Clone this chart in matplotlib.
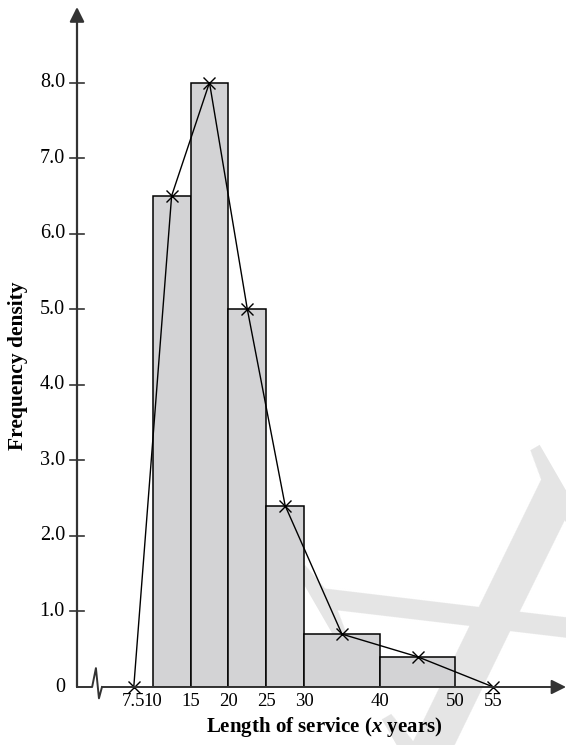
import matplotlib
matplotlib.use("Agg")
import matplotlib.pyplot as plt

# histogram data (class boundaries and frequency density)
lower = [10, 15, 20, 25, 30, 40]
upper = [15, 20, 25, 30, 40, 50]
density = [6.5, 8.0, 5.0, 2.4, 0.7, 0.4]

# frequency polygon points
poly_x = [7.5, 12.5, 17.5, 22.5, 27.5, 35, 45, 55]
poly_y = [0, 6.5, 8.0, 5.0, 2.4, 0.7, 0.4, 0]

xtick_vals = [7.5, 10, 15, 20, 25, 30, 40, 50, 55]
xtick_labels = ["7.5", "10", "15", "20", "25", "30", "40", "50", "55"]
ytick_vals = [0, 1, 2, 3, 4, 5, 6, 7, 8]
ytick_labels = ["0", "1.0", "2.0", "3.0", "4.0", "5.0", "6.0", "7.0", "8.0"]

plt.rcParams['font.family'] = ['Liberation Serif', 'DejaVu Serif']
plt.rcParams['mathtext.fontset'] = 'custom'
plt.rcParams['mathtext.bfit'] = 'Liberation Serif:italic:bold'
plt.rcParams['mathtext.rm'] = 'Liberation Serif:bold'

fig = plt.figure(figsize=(5.66, 7.45), dpi=100)
ax = fig.add_axes([77/566, 58/745, 489/566, 680/745])
ax.set_xlim(0, 64.6)
ax.set_ylim(0, 9.0)
ax.patch.set_alpha(0)
for s in ax.spines.values():
    s.set_visible(False)
ax.set_xticks([])
ax.set_yticks([])

# faint watermark behind the chart
ax.text(448/566, 1 - 650/745, "X", transform=fig.transFigure, fontsize=300,
        color="#e5e5e5", ha="center", va="center", rotation=-60,
        zorder=0, clip_on=False)

# bars
widths = [u - l for l, u in zip(lower, upper)]
ax.bar(lower, density, width=widths, align="edge", color="#d3d3d5",
       edgecolor="black", linewidth=1.1, zorder=2)

# polygon
ax.plot(poly_x, poly_y, color="black", linewidth=1.0, marker="x",
        markersize=9, markeredgewidth=1.0, zorder=3, clip_on=False)

# axes with arrows
axc = "#333333"
ax.annotate("", xy=(0, 9.0), xytext=(0, 0), zorder=4,
            arrowprops=dict(arrowstyle="-|>", color=axc, lw=1.6,
                            mutation_scale=22, shrinkA=0, shrinkB=0))
ax.plot([0, 2.0, 2.5, 2.9, 3.3], [0, 0, 0.25, -0.15, 0], color=axc, lw=1.4,
        clip_on=False, zorder=4)
ax.annotate("", xy=(64.6, 0), xytext=(3.3, 0), zorder=4,
            arrowprops=dict(arrowstyle="-|>", color=axc, lw=1.4,
                            mutation_scale=22, shrinkA=0, shrinkB=0))

# y ticks crossing the axis
for v, lab in zip(ytick_vals, ytick_labels):
    if v > 0:
        ax.plot([-0.95, 0.95], [v, v], color=axc, lw=1.2, clip_on=False, zorder=4)
    ax.text(-1.6, v, lab, ha="right", va="center", fontsize=14.5, zorder=5)

# x tick labels
for v, lab in zip(xtick_vals, xtick_labels):
    ax.text(v, -0.08, lab, ha="center", va="top", fontsize=13.5, zorder=5)

fig.text(324/566, 1 - 727/745, r"Length of service ($\mathbfit{x}$ years)",
         ha="center", va="center", fontsize=15, fontweight="bold")
fig.text(18/566, 1 - 366/745, "Frequency density", rotation=90,
         ha="center", va="center", fontsize=15.5, fontweight="bold")

fig.savefig("out.png", dpi=100)
